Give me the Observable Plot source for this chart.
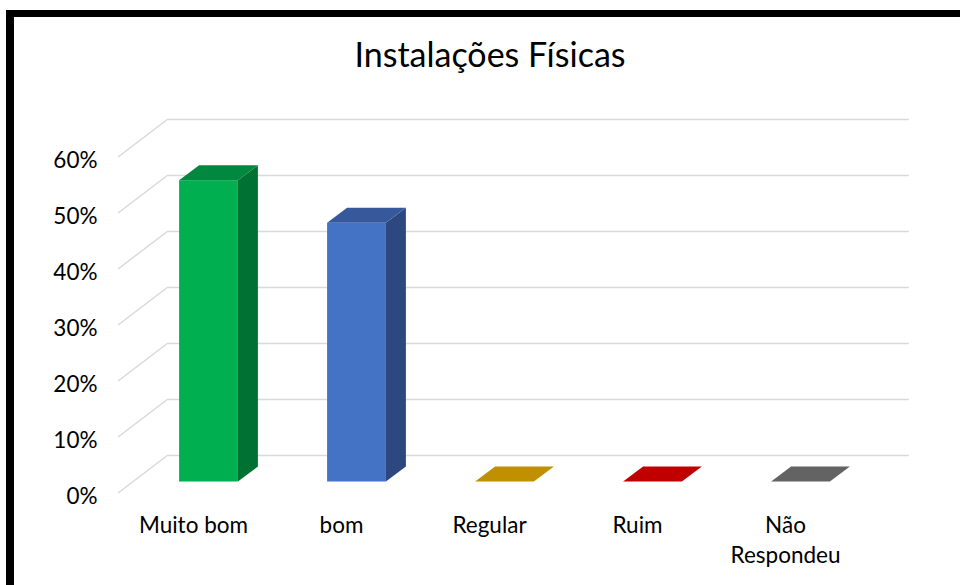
<!DOCTYPE html>
<html>
<head>
<meta charset="utf-8">
<script src="https://cdn.jsdelivr.net/npm/d3@7"></script>
<script src="https://cdn.jsdelivr.net/npm/@observablehq/plot@0.6"></script>
<style>
  html, body { margin: 0; padding: 0; background: #fff; }
  #page { position: relative; width: 960px; height: 585px; overflow: hidden; background: #fff; font-family: Lato, sans-serif; }
  #frame { position: absolute; left: 6px; top: 10px; width: 954px; height: 575px; box-sizing: border-box;
           border-top: 7px solid #000; border-left: 8px solid #000; }
  #title { position: absolute; left: 14px; width: 952px; top: 34px; text-align: center;
           font-size: 34px; line-height: 1.2; color: #000; white-space: nowrap; }
  #chart { position: absolute; left: 14px; top: 95px; }
</style>
</head>
<body>
<div id="page">
  <div id="frame"></div>
  <div id="title">Instalações Físicas</div>
  <div id="chart"></div>
</div>
<script>
// Survey answers for "Instalações Físicas"
const categories = ["Muito bom", "bom", "Regular", "Ruim", "Não Respondeu"];
const values = [0.538, 0.462, 0, 0, 0];
const xTickLabels = ["Muito bom", "bom", "Regular", "Ruim", "Não\nRespondeu"];
const yTicks = [0, 0.1, 0.2, 0.3, 0.4, 0.5, 0.6];

// Face colours of each column: front, top, right side
const frontColors = ["#00B050", "#4472C4", "#BF9000", "#C00000", "#636363"];
const topColors   = ["#00893E", "#35599B", "#C09000", "#C00000", "#636363"];
const sideColors  = ["#007132", "#2C487E", "#8F6C00", "#900000", "#4A4A4A"];

// Perspective offsets (pixels) of the back wall and of the column faces
const WALL = {dx: 50, dy: -38};
const FRONT = {dx: 15.5, dy: -11.5};
const BACK = {dx: 35.5, dy: -26.5};
const BAR_INSET = 44.6;

const rows = categories.map((category, i) => ({
  category, value: values[i], front: frontColors[i], top: topColors[i], side: sideColors[i]
}));

// Diagonal grid edges running along the left wall, from front to back
function wallEdges(index, scales, values, dimensions) {
  const y = scales.y;
  const x0 = dimensions.marginLeft;
  const g = d3.create("svg:g").attr("stroke", "#d9d9d9").attr("stroke-width", 1.5).attr("fill", "none");
  for (const t of yTicks) {
    g.append("line")
      .attr("x1", x0).attr("y1", y(t))
      .attr("x2", x0 + WALL.dx).attr("y2", y(t) + WALL.dy);
  }
  return g.node();
}

// Top and right-hand faces of each column
function columnFaces(index, scales) {
  const x = scales.x, y = scales.y;
  const bw = typeof x.bandwidth === "function" ? x.bandwidth() : Math.abs(x(categories[1]) - x(categories[0]));
  const ddx = BACK.dx - FRONT.dx, ddy = BACK.dy - FRONT.dy;
  const g = d3.create("svg:g");
  for (const r of rows) {
    const xl = x(r.category) + BAR_INSET + FRONT.dx;
    const xr = x(r.category) + bw - BAR_INSET + FRONT.dx;
    const yt = y(r.value) + FRONT.dy;
    const yb = y(0) + FRONT.dy;
    if (yb - yt > 0.5) {
      g.append("path")
        .attr("d", `M${xr},${yt}L${xr + ddx},${yt + ddy}L${xr + ddx},${yb + ddy}L${xr},${yb}Z`)
        .attr("fill", r.side);
    }
    g.append("path")
      .attr("d", `M${xl},${yt}L${xr},${yt}L${xr + ddx},${yt + ddy}L${xl + ddx},${yt + ddy}Z`)
      .attr("fill", r.top);
  }
  return g.node();
}

const chart = Plot.plot({
  width: 946,
  height: 490,
  marginLeft: 104,
  marginRight: 101,
  marginTop: 62,
  marginBottom: 92,
  style: {fontFamily: "Lato, sans-serif", fontSize: "22.5px", color: "#000", background: "transparent", overflow: "visible"},
  x: {type: "band", domain: categories, padding: 0, label: null},
  y: {domain: [0, 0.6], label: null},
  color: {type: "identity"},
  marks: [
    Plot.ruleY(yTicks, {stroke: "#d9d9d9", strokeWidth: 1.5, dx: WALL.dx, dy: WALL.dy}),
    wallEdges,
    Plot.axisY(yTicks, {tickSize: 0, tickPadding: 21, dy: 3, fontSize: 22.5, tickFormat: d => `${Math.round(d * 100)}%`}),
    Plot.axisX({tickSize: 0, tickPadding: 18, fontSize: 22.5, lineHeight: 1.33,
                tickFormat: d => xTickLabels[categories.indexOf(d)]}),
    Plot.barY(rows, {x: "category", y: "value", fill: "front", insetLeft: BAR_INSET, insetRight: BAR_INSET,
                     dx: FRONT.dx, dy: FRONT.dy}),
    columnFaces
  ]
});
document.getElementById("chart").append(chart);
</script>
</body>
</html>
